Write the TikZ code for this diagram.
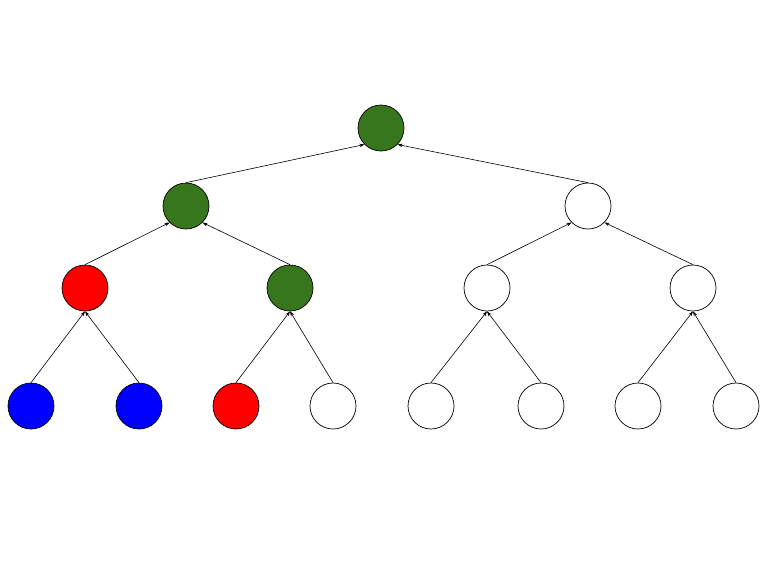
\documentclass[tikz,border=0pt]{standalone}
\usetikzlibrary{arrows.meta}
\definecolor{tgreen}{HTML}{38761D}
\begin{document}
\begin{tikzpicture}[x=1pt,y=-1pt,
  nd/.style={circle,draw=black,line width=0.7pt,minimum size=46pt,inner sep=0pt},
  arr/.style={line width=0.6pt,-{Stealth[length=5pt,width=3.5pt]}}]
\useasboundingbox (0,0) rectangle (768,576);
\node[nd,fill=tgreen] (r) at (381,128) {};
\node[nd,fill=tgreen] (a) at (186,206) {};
\node[nd,fill=white] (b) at (588,206) {};
\node[nd,fill=red] (aa) at (85,288) {};
\node[nd,fill=tgreen] (ab) at (290,288) {};
\node[nd,fill=white] (ba) at (487,288) {};
\node[nd,fill=white] (bb) at (693,288) {};
\node[nd,fill=blue] (l1) at (31,406) {};
\node[nd,fill=blue] (l2) at (139,406) {};
\node[nd,fill=red] (l3) at (236,406) {};
\node[nd,fill=white] (l4) at (333,406) {};
\node[nd,fill=white] (l5) at (431,406) {};
\node[nd,fill=white] (l6) at (541,406) {};
\node[nd,fill=white] (l7) at (638,406) {};
\node[nd,fill=white] (l8) at (736,406) {};
\draw[arr] (a.north) -- (r.south west);
\draw[arr] (b.north) -- (r.south east);
\draw[arr] (aa.north) -- (a.south west);
\draw[arr] (ab.north) -- (a.south east);
\draw[arr] (ba.north) -- (b.south west);
\draw[arr] (bb.north) -- (b.south east);
\draw[arr] (l1.north) -- (aa.south);
\draw[arr] (l2.north) -- (aa.south);
\draw[arr] (l3.north) -- (ab.south);
\draw[arr] (l4.north) -- (ab.south);
\draw[arr] (l5.north) -- (ba.south);
\draw[arr] (l6.north) -- (ba.south);
\draw[arr] (l7.north) -- (bb.south);
\draw[arr] (l8.north) -- (bb.south);
\end{tikzpicture}
\end{document}
